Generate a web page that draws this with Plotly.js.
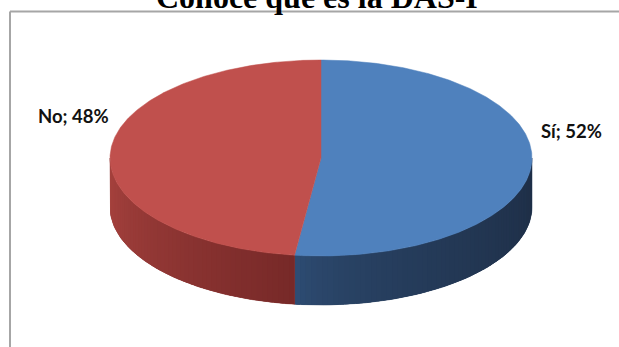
<!DOCTYPE html>
<html>
<head>
<meta charset="utf-8">
<script src="https://cdn.plot.ly/plotly-3.0.1.min.js"></script>
<style>html,body{margin:0;padding:0;background:#fff;}#chart{width:619px;height:347px;}</style>
</head>
<body>
<div id="chart"></div>
<script>
// ---- data ----
const titleText = "Conoce qué es la DAS-I";
const categories = ["Sí", "No"];
const values = [52, 48];

// ---- styles / geometry (layout, not data) ----
const topColors = ["#4F81BD", "#C0504D"];
const sideLight = ["#2F4F77", "#A8433F"];
const sideDark = ["#1E2E46", "#772928"];
const geom = {cx: 321, cy: 158, rx: 211, ry: 98, depth: 49};
const labelPos = [{x: 571, y: 131}, {x: 73, y: 116}];

function hex2rgb(h){return [1,3,5].map(i=>parseInt(h.substr(i,2),16));}
function mix(a,b,t){const A=hex2rgb(a),B=hex2rgb(b);return 'rgb('+A.map((v,i)=>Math.round(v+(B[i]-v)*t)).join(',')+')';}
function pt(thetaDeg, dy){const t=thetaDeg*Math.PI/180;return [geom.cx+geom.rx*Math.sin(t), geom.cy-geom.ry*Math.cos(t)+(dy||0)];}
function sidePoly(a,b,steps){
  const xs=[], ys=[];
  for (let j=0;j<=steps;j++){const p=pt(a+(b-a)*j/steps,0);xs.push(p[0]);ys.push(p[1]);}
  for (let j=steps;j>=0;j--){const p=pt(a+(b-a)*j/steps,geom.depth);xs.push(p[0]);ys.push(p[1]);}
  xs.push(xs[0]); ys.push(ys[0]);
  return [xs,ys];
}

const total = values.reduce((a,b)=>a+b,0);
// slice angle ranges (clockwise from 12 o'clock)
const ranges = [];
let acc = 0;
values.forEach(v=>{const a0=acc/total*360; acc+=v; ranges.push([a0, acc/total*360]);});

const traces = [];
// sides (visible front half: 90..270 deg)
ranges.forEach((r,i)=>{
  const s = Math.max(r[0], 90), e = Math.min(r[1], 270);
  if (e <= s) return;
  // base polygon under the strips
  const base = sidePoly(s, e, 60);
  const mid = mix(sideLight[i], sideDark[i], 0.6);
  traces.push({type:'scatter',mode:'lines',x:base[0],y:base[1],fill:'toself',fillcolor:mid,line:{color:mid,width:0.5},hoverinfo:'skip',showlegend:false});
  const N = Math.max(4, Math.round((e-s)/1.5));
  for (let k=0;k<N;k++){
    const a = s + (e-s)*k/N;
    const b = Math.min(e, s + (e-s)*(k+1.8)/N);
    const c = s + (e-s)*(k+0.5)/N;
    // frac: 0 at left edge (largest angle), 1 at right edge (smallest angle)
    const frac = (e - c)/(e - s);
    const tcol = i===0 ? Math.pow(frac, 0.5) : frac;
    const col = mix(sideLight[i], sideDark[i], tcol);
    const poly = sidePoly(a, b, 4);
    traces.push({type:'scatter',mode:'none',x:poly[0],y:poly[1],fill:'toself',fillcolor:col,hoverinfo:'skip',showlegend:false});
  }
});
// tops
ranges.forEach((r,i)=>{
  const xs=[geom.cx], ys=[geom.cy];
  const N = Math.round((r[1]-r[0])*2);
  for (let k=0;k<=N;k++){const p=pt(r[0]+(r[1]-r[0])*k/N);xs.push(p[0]);ys.push(p[1]);}
  xs.push(geom.cx); ys.push(geom.cy);
  traces.push({type:'scatter',mode:'lines',x:xs,y:ys,fill:'toself',fillcolor:topColors[i],line:{color:topColors[i],width:0.5},hoverinfo:'skip',showlegend:false,name:categories[i]});
});

const annotations = categories.map((c,i)=>({
  x: labelPos[i].x, y: labelPos[i].y, xref:'x', yref:'y',
  text: '<b>' + c + '; ' + Math.round(values[i]/total*100) + '%</b>',
  showarrow:false, xanchor:'center', yanchor:'middle',
  font:{family:'Lato, "Open Sans", sans-serif', size:18.5, color:'#111'}
}));
annotations.push({
  text:'<b>'+titleText+'</b>', xref:'paper', yref:'paper', x:0.512, y:1+3/347,
  xanchor:'center', yanchor:'middle', showarrow:false,
  font:{family:'"Liberation Serif", "Times New Roman", serif', size:32, color:'#000'}
});

const layout = {
  width:619, height:347,
  margin:{l:0,r:0,t:0,b:0},
  paper_bgcolor:'#ffffff', plot_bgcolor:'#ffffff',
  xaxis:{range:[0,619], visible:false, fixedrange:true},
  yaxis:{range:[347,0], visible:false, fixedrange:true},
  showlegend:false, hovermode:false,
  annotations: annotations,
  shapes:[
    {type:'line', xref:'x', yref:'y', x0:10, y0:11.5, x1:630, y1:11.5, line:{color:'#a6a6a6', width:2}, layer:'below'},
    {type:'line', xref:'x', yref:'y', x0:10, y0:11.5, x1:10, y1:360, line:{color:'#a6a6a6', width:2}, layer:'below'}
  ]
};
Plotly.newPlot('chart', traces, layout, {displayModeBar:false, staticPlot:true});
</script>
</body>
</html>
